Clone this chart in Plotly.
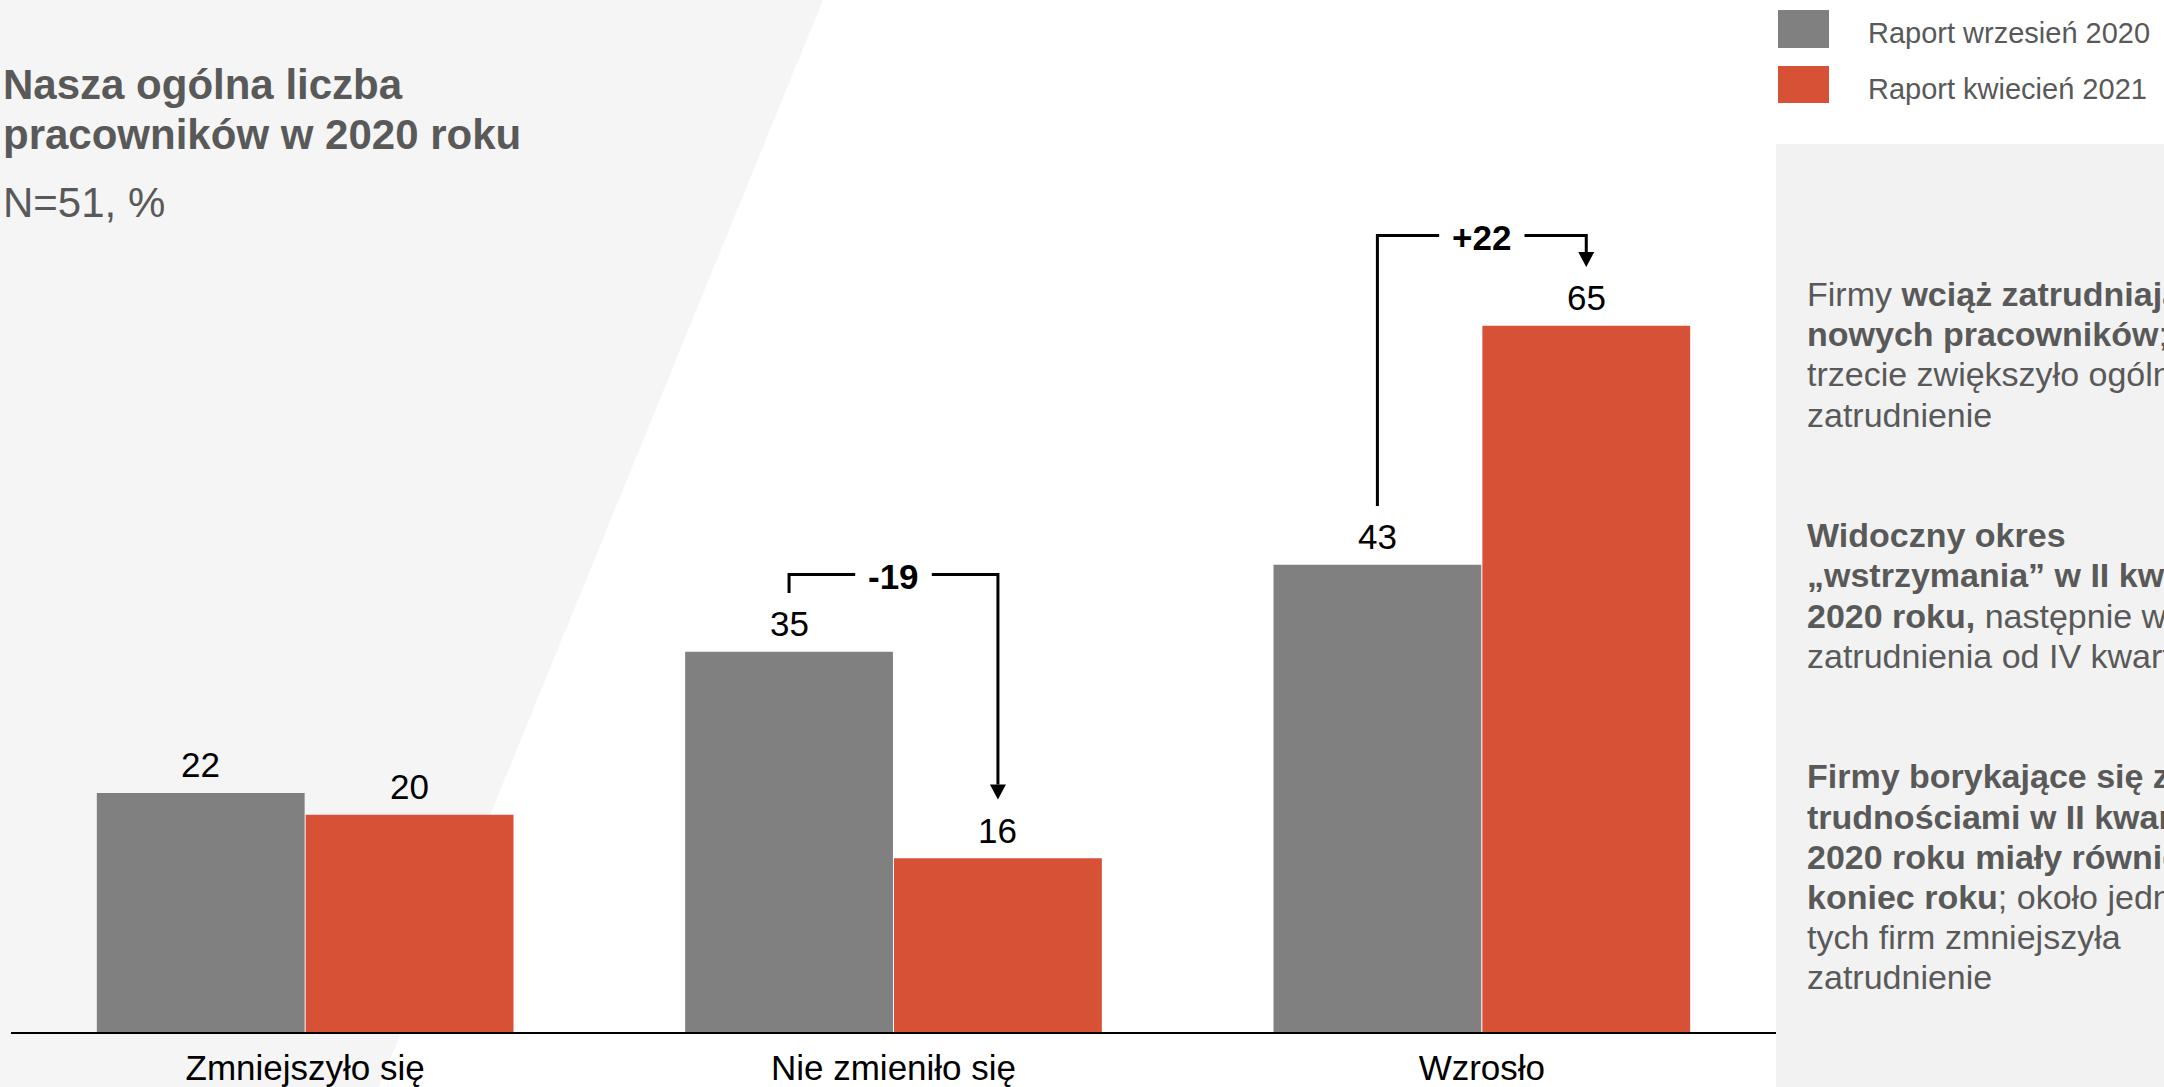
import plotly.graph_objects as go

# ---- data -------------------------------------------------------------
categories = ["Zmniejszyło się", "Nie zmieniło się", "Wzrosło"]
series_names = ["Raport wrzesień 2020", "Raport kwiecień 2021"]
sep_2020 = [22, 35, 43]
apr_2021 = [20, 16, 65]
changed_groups = [1, 2]          # categories that get a change bracket

title_lines = ["Nasza ogólna liczba", "pracowników w 2020 roku"]
subtitle = "N=51, %"

side_paragraphs = [
    ["Firmy <b>wciąż zatrudniają</b>",
     "<b>nowych pracowników</b>; co",
     "trzecie zwiększyło ogólne",
     "zatrudnienie"],
    ["<b>Widoczny okres</b>",
     "<b>„wstrzymania” w II kwartale</b>",
     "<b>2020 roku,</b> następnie wzrost",
     "zatrudnienia od IV kwartału"],
    ["<b>Firmy borykające się z</b>",
     "<b>trudnościami w II kwartale</b>",
     "<b>2020 roku miały również trudny</b>",
     "<b>koniec roku</b>; około jedna trzecia",
     "tych firm zmniejszyła",
     "zatrudnienie"],
]

# ---- layout geometry --------------------------------------------------
W, H = 2164, 1087
M_L, M_R, M_T, M_B = 11, 388, 54, 55
Y_MAX = 90
BARGAP = 0.29
PLOT_W = W - M_L - M_R
PLOT_H = H - M_T - M_B
PX_PER_X = PLOT_W / 3.0
PX_PER_Y = PLOT_H / Y_MAX

FONT = "Arial, 'Liberation Sans', sans-serif"
GREY = "#808080"
RED = "#D75137"
TEXT_GREY = "#595959"


def px(x):
    """page pixel x -> paper x"""
    return (x - M_L) / PLOT_W


def py(y):
    """page pixel y (from top) -> paper y"""
    return (H - M_B - y) / PLOT_H


x_idx = list(range(len(categories)))
half = (1 - BARGAP) / 4.0        # bar-centre offset from the category centre

fig = go.Figure()
fig.add_trace(go.Bar(x=x_idx, y=sep_2020, name=series_names[0],
                     marker=dict(color=GREY, line=dict(width=0))))
fig.add_trace(go.Bar(x=x_idx, y=apr_2021, name=series_names[1],
                     marker=dict(color=RED, line=dict(width=0))))

shapes = []
annotations = []

# light diagonal backdrop on the left and the note panel on the right
shapes.append(dict(type="path", xref="paper", yref="paper", layer="below",
                   path=f"M {px(0)},{py(0)} L {px(823)},{py(0)} "
                        f"L {px(379)},{py(H)} L {px(0)},{py(H)} Z",
                   fillcolor="#F5F5F5", line=dict(width=0)))
shapes.append(dict(type="rect", xref="paper", yref="paper", layer="below",
                   x0=px(1776), x1=px(W + 5), y0=py(H + 5), y1=py(144),
                   fillcolor="#F2F2F2", line=dict(width=0)))

# value labels above the bars
for i in x_idx:
    for v, dx in ((sep_2020[i], -half), (apr_2021[i], half)):
        annotations.append(dict(x=i + dx, y=v, xref="x", yref="y",
                                text=str(v), showarrow=False,
                                yanchor="middle", yshift=28,
                                font=dict(family=FONT, size=35, color="#000000")))

# change brackets with arrows
LEG_GAP = 5.4                     # space between value and bracket leg (units)
BRACKET_RISE = {1: 7.1, 2: 8.3}   # bracket height above the taller bar (units)
HEAD_W, HEAD_H = 8, 15            # arrow head half width / length in px
LABEL_SIZE = 35
CHAR_W = {"-": 0.333, "+": 0.584}

for i in changed_groups:
    a, b = sep_2020[i], apr_2021[i]
    xl, xr = i - half, i + half
    top = max(a, b) + BRACKET_RISE[i]
    label = f"{b - a:+d}"
    text_w = sum(CHAR_W.get(c, 0.556) for c in label) * LABEL_SIZE
    gap = (text_w / 2 + 13) / PX_PER_X
    tip = b + LEG_GAP
    line = dict(color="#000000", width=3)
    shapes.append(dict(type="path", xref="x", yref="y", line=line,
                       path=f"M {xl},{a + LEG_GAP} L {xl},{top} L {i - gap},{top}"))
    shapes.append(dict(type="path", xref="x", yref="y", line=line,
                       path=f"M {i + gap},{top} L {xr},{top} "
                            f"L {xr},{tip + HEAD_H / PX_PER_Y}"))
    shapes.append(dict(type="path", xref="x", yref="y",
                       xsizemode="pixel", ysizemode="pixel",
                       xanchor=xr, yanchor=tip,
                       path=f"M {-HEAD_W},{HEAD_H} L {HEAD_W},{HEAD_H} L 0,0 Z",
                       fillcolor="#000000", line=dict(width=0)))
    annotations.append(dict(x=i, y=top, xref="x", yref="y",
                            text=f"<b>{label}</b>", showarrow=False,
                            yanchor="middle", yshift=-2,
                            font=dict(family=FONT, size=LABEL_SIZE, color="#000000")))

# title block
for line_text, cy in zip(title_lines, (85, 135)):
    annotations.append(dict(x=px(1), y=py(cy), xref="paper", yref="paper",
                            xanchor="left", yanchor="middle", showarrow=False,
                            text=f"<b>{line_text}</b>",
                            font=dict(family=FONT, size=42, color=TEXT_GREY)))
annotations.append(dict(x=px(1), y=py(203), xref="paper", yref="paper",
                        xanchor="left", yanchor="middle", showarrow=False,
                        text=subtitle,
                        font=dict(family=FONT, size=42, color=TEXT_GREY)))

# legend
for name, colour, (y0, y1), cy in zip(series_names, (GREY, RED),
                                       ((10, 48), (66, 103)), (33, 89)):
    shapes.append(dict(type="rect", xref="paper", yref="paper",
                       x0=px(1778), x1=px(1829), y0=py(y1), y1=py(y0),
                       fillcolor=colour, line=dict(width=0)))
    annotations.append(dict(x=px(1866), y=py(cy), xref="paper", yref="paper",
                            xanchor="left", yanchor="middle", showarrow=False,
                            text=name,
                            font=dict(family=FONT, size=29, color=TEXT_GREY)))

# side notes
k = 0
for para in side_paragraphs:
    for line_text in para:
        annotations.append(dict(x=px(1805), y=py(294 + 40.2 * k),
                                xref="paper", yref="paper",
                                xanchor="left", yanchor="middle",
                                showarrow=False, text=line_text,
                                font=dict(family=FONT, size=34, color=TEXT_GREY)))
        k += 1
    k += 2

fig.update_layout(
    width=W, height=H, autosize=False,
    margin=dict(l=M_L, r=M_R, t=M_T, b=M_B, pad=0),
    paper_bgcolor="#FFFFFF", plot_bgcolor="rgba(0,0,0,0)",
    barmode="group", bargap=BARGAP, bargroupgap=0.005,
    showlegend=False,
    font=dict(family=FONT, color="#000000"),
    shapes=shapes, annotations=annotations,
    xaxis=dict(range=[-0.5, 2.5], tickvals=x_idx, ticktext=categories,
               showgrid=False, zeroline=False, showline=True,
               linecolor="#000000", linewidth=2, ticks="",
               tickfont=dict(family=FONT, size=35, color="#000000"),
               ticklabelstandoff=4, automargin=False, fixedrange=True),
    yaxis=dict(range=[0, Y_MAX], visible=False, automargin=False,
               fixedrange=True),
)

fig.write_html("out.html",
               config={"displayModeBar": False, "responsive": False})
